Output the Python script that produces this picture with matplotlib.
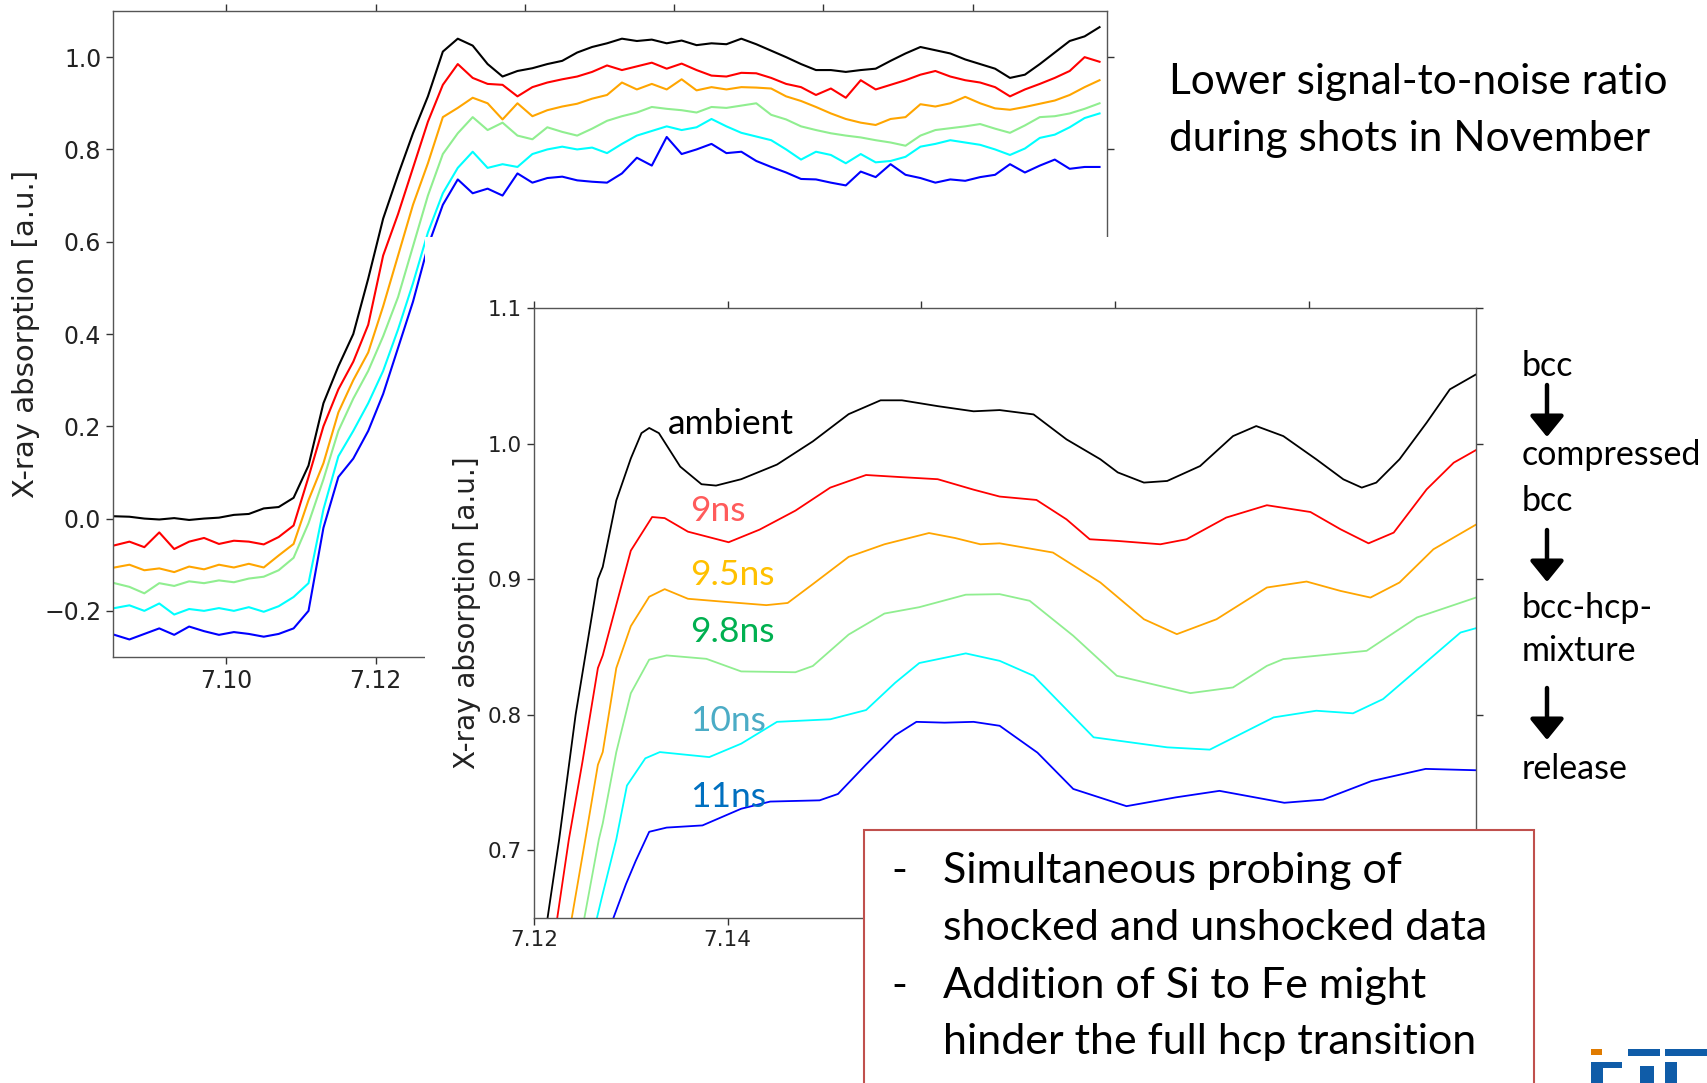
"""Fe-Si XANES slide: noisy November shots behind, smoothed time series in front."""

import matplotlib

matplotlib.use("Agg")
import matplotlib.pyplot as plt
from matplotlib.patches import FancyArrowPatch, Rectangle

W, H = 1708, 1083  # output size in pixels

SERIES_COLORS = ["black", "red", "orange", "lightgreen", "cyan", "blue"]
LABELS = ["ambient", "9ns", "9.5ns", "9.8ns", "10ns", "11ns"]
LABEL_COLORS = ["black", "#FF5B5B", "#FFC000", "#00B050", "#4BACC6", "#0070C0"]
LABEL_Y = [1.0145, 0.950, 0.9028, 0.861, 0.7952, 0.739]

# ---- raw (noisy) scans, background panel ----
raw_energy = [
    7.085, 7.087, 7.089, 7.091, 7.093, 7.095, 7.097, 7.099, 7.101, 7.103,
    7.105, 7.107, 7.109, 7.111, 7.113, 7.115, 7.117, 7.119, 7.121, 7.123,
    7.125, 7.127, 7.129, 7.131, 7.133, 7.135, 7.137, 7.139, 7.141, 7.143,
    7.145, 7.147, 7.149, 7.151, 7.153, 7.155, 7.157, 7.159, 7.161, 7.163,
    7.165, 7.167, 7.169, 7.171, 7.173, 7.175, 7.177, 7.179, 7.181, 7.183,
    7.185, 7.187, 7.189, 7.191, 7.193, 7.195, 7.197, 7.199, 7.201, 7.203,
    7.205, 7.207, 7.209, 7.211, 7.213, 7.215, 7.217,
]
raw_ambient = [
    0.005, 0.004, 0.000, -0.002, 0.001, -0.003, 0.000, 0.002, 0.008, 0.010,
    0.022, 0.025, 0.045, 0.115, 0.250, 0.330, 0.400, 0.520, 0.650, 0.745,
    0.835, 0.915, 1.012, 1.040, 1.025, 0.985, 0.958, 0.970, 0.976, 0.985,
    0.992, 1.010, 1.022, 1.030, 1.040, 1.035, 1.038, 1.030, 1.036, 1.026,
    1.030, 1.028, 1.040, 1.028, 1.014, 1.000, 0.985, 0.972, 0.972, 0.968,
    0.972, 0.975, 0.992, 1.008, 1.022, 1.015, 1.008, 0.995, 0.985, 0.975,
    0.955, 0.962, 0.985, 1.010, 1.035, 1.045, 1.065,
]
raw_9ns = [
    -0.058, -0.050, -0.062, -0.030, -0.066, -0.050, -0.042, -0.055, -0.048, -0.050,
    -0.056, -0.040, -0.015, 0.090, 0.200, 0.280, 0.340, 0.420, 0.570, 0.660,
    0.760, 0.860, 0.940, 0.985, 0.955, 0.942, 0.940, 0.915, 0.935, 0.945,
    0.952, 0.958, 0.968, 0.982, 0.972, 0.980, 0.988, 0.975, 0.986, 0.972,
    0.960, 0.958, 0.966, 0.965, 0.955, 0.942, 0.935, 0.918, 0.932, 0.912,
    0.950, 0.930, 0.940, 0.950, 0.962, 0.970, 0.958, 0.950, 0.945, 0.935,
    0.915, 0.930, 0.942, 0.955, 0.970, 1.000, 0.990,
]
raw_9p5ns = [
    -0.106, -0.100, -0.112, -0.108, -0.116, -0.104, -0.110, -0.100, -0.106, -0.098,
    -0.106, -0.080, -0.055, 0.040, 0.120, 0.230, 0.300, 0.360, 0.460, 0.570,
    0.680, 0.770, 0.870, 0.890, 0.912, 0.900, 0.865, 0.900, 0.872, 0.885,
    0.893, 0.899, 0.910, 0.918, 0.945, 0.930, 0.942, 0.930, 0.952, 0.928,
    0.935, 0.930, 0.935, 0.934, 0.932, 0.915, 0.905, 0.892, 0.878, 0.866,
    0.858, 0.853, 0.866, 0.870, 0.898, 0.893, 0.900, 0.914, 0.900, 0.889,
    0.886, 0.892, 0.899, 0.906, 0.918, 0.935, 0.950,
]
raw_9p8ns = [
    -0.140, -0.148, -0.162, -0.140, -0.146, -0.136, -0.140, -0.134, -0.138, -0.130,
    -0.126, -0.112, -0.085, -0.010, 0.085, 0.190, 0.260, 0.320, 0.395, 0.480,
    0.590, 0.700, 0.790, 0.835, 0.870, 0.842, 0.858, 0.830, 0.822, 0.848,
    0.838, 0.830, 0.845, 0.862, 0.872, 0.880, 0.892, 0.888, 0.885, 0.880,
    0.892, 0.890, 0.895, 0.900, 0.875, 0.865, 0.850, 0.842, 0.835, 0.830,
    0.826, 0.820, 0.815, 0.808, 0.830, 0.842, 0.846, 0.850, 0.855, 0.845,
    0.836, 0.852, 0.870, 0.872, 0.878, 0.888, 0.900,
]
raw_10ns = [
    -0.194, -0.188, -0.200, -0.184, -0.208, -0.196, -0.200, -0.194, -0.200, -0.192,
    -0.202, -0.190, -0.170, -0.140, 0.020, 0.135, 0.190, 0.250, 0.320, 0.410,
    0.510, 0.620, 0.705, 0.760, 0.795, 0.760, 0.768, 0.762, 0.790, 0.800,
    0.806, 0.800, 0.804, 0.792, 0.812, 0.830, 0.840, 0.850, 0.842, 0.848,
    0.866, 0.850, 0.836, 0.828, 0.820, 0.800, 0.778, 0.795, 0.788, 0.770,
    0.790, 0.772, 0.775, 0.784, 0.806, 0.812, 0.820, 0.815, 0.810, 0.800,
    0.788, 0.802, 0.825, 0.832, 0.848, 0.868, 0.878,
]
raw_11ns = [
    -0.252, -0.262, -0.250, -0.238, -0.252, -0.234, -0.244, -0.252, -0.246, -0.250,
    -0.256, -0.250, -0.238, -0.200, -0.020, 0.090, 0.130, 0.190, 0.270, 0.370,
    0.470, 0.590, 0.680, 0.735, 0.705, 0.715, 0.700, 0.748, 0.728, 0.738,
    0.741, 0.733, 0.730, 0.728, 0.748, 0.782, 0.765, 0.827, 0.790, 0.800,
    0.812, 0.792, 0.795, 0.775, 0.762, 0.750, 0.736, 0.735, 0.728, 0.722,
    0.752, 0.740, 0.768, 0.745, 0.738, 0.728, 0.735, 0.732, 0.740, 0.745,
    0.768, 0.750, 0.765, 0.778, 0.758, 0.762, 0.762,
]
raw_series = [raw_ambient, raw_9ns, raw_9p5ns, raw_9p8ns, raw_10ns, raw_11ns]

# ---- smoothed scans, front panel (each read with its own energies) ----
sm_ambient_x = [7.1214, 7.1226, 7.1243, 7.1266, 7.1271, 7.1285, 7.1300, 7.1311, 7.1319, 7.1329,
                7.1351, 7.1373, 7.1388, 7.1414, 7.1451, 7.1488, 7.1525, 7.1558, 7.1580, 7.1617,
                7.1654, 7.1681, 7.1716, 7.1750, 7.1785, 7.1803, 7.1830, 7.1854, 7.1888, 7.1922,
                7.1946, 7.1974, 7.2008, 7.2036, 7.2055, 7.2070, 7.2094, 7.2122, 7.2146, 7.2173]
sm_ambient_y = [0.650, 0.708, 0.800, 0.900, 0.909, 0.958, 0.989, 1.0077, 1.0115, 1.0077,
                0.983, 0.970, 0.969, 0.9737, 0.9845, 1.0016, 1.0217, 1.0319, 1.0319, 1.0276,
                1.0238, 1.0247, 1.0215, 1.0031, 0.9884, 0.9787, 0.9712, 0.9724, 0.9834, 1.0055,
                1.0129, 1.0055, 0.9884, 0.9736, 0.9675, 0.9712, 0.9884, 1.0154, 1.0400, 1.0510]
sm_9ns_x = [7.1224, 7.1236, 7.1250, 7.1266, 7.1271, 7.1300, 7.1322, 7.1335, 7.1359, 7.1401,
            7.1433, 7.1470, 7.1506, 7.1543, 7.1580, 7.1617, 7.1654, 7.1681, 7.1719, 7.1750,
            7.1774, 7.1802, 7.1847, 7.1874, 7.1915, 7.1957, 7.2002, 7.2033, 7.2062, 7.2088,
            7.2122, 7.2150, 7.2173]
sm_9ns_y = [0.650, 0.708, 0.765, 0.8344, 0.8437, 0.921, 0.9458, 0.945, 0.935, 0.9272,
            0.9365, 0.9505, 0.9675, 0.9768, 0.9752, 0.9737, 0.966, 0.9609, 0.9584, 0.9441,
            0.9294, 0.9282, 0.9257, 0.9294, 0.9454, 0.9545, 0.9495, 0.9368, 0.9264, 0.9343,
            0.9662, 0.9859, 0.9952]
sm_9p5ns_x = [7.1239, 7.1253, 7.1266, 7.1271, 7.1285, 7.1300, 7.1319, 7.1335, 7.1359, 7.1396,
              7.1440, 7.1462, 7.1488, 7.1525, 7.1562, 7.1608, 7.1635, 7.1661, 7.1681, 7.1736,
              7.1785, 7.1830, 7.1864, 7.1905, 7.1957, 7.1998, 7.2033, 7.2064, 7.2094, 7.2129,
              7.2173]
sm_9p5ns_y = [0.650, 0.708, 0.763, 0.7724, 0.8344, 0.8653, 0.887, 0.8926, 0.8855, 0.8833,
              0.8808, 0.8824, 0.8963, 0.9164, 0.9257, 0.934, 0.9303, 0.9257, 0.9264, 0.9196,
              0.8975, 0.8704, 0.8594, 0.8704, 0.8938, 0.8982, 0.8913, 0.8864, 0.8975, 0.922,
              0.9402]
sm_9p8ns_x = [7.1252, 7.1267, 7.1271, 7.1285, 7.1300, 7.1319, 7.1337, 7.1378, 7.1414, 7.1470,
              7.1488, 7.1525, 7.1562, 7.1598, 7.1646, 7.1681, 7.1712, 7.1757, 7.1802, 7.1878,
              7.1922, 7.1957, 7.1974, 7.2026, 7.2060, 7.2112, 7.2173]
sm_9p8ns_y = [0.650, 0.708, 0.7198, 0.7724, 0.8158, 0.8406, 0.8437, 0.8412, 0.8319, 0.8313,
              0.8359, 0.8591, 0.8746, 0.8793, 0.8885, 0.8889, 0.884, 0.8582, 0.8287, 0.8159,
              0.8201, 0.836, 0.841, 0.8447, 0.8471, 0.8717, 0.8864]
sm_10ns_x = [7.1265, 7.1270, 7.1285, 7.1296, 7.1315, 7.1330, 7.1381, 7.1414, 7.1451, 7.1506,
             7.1543, 7.1573, 7.1598, 7.1646, 7.1681, 7.1716, 7.1778, 7.1854, 7.1898, 7.1964,
             7.2008, 7.2046, 7.2077, 7.2129, 7.2157, 7.2173]
sm_10ns_y = [0.650, 0.665, 0.708, 0.7477, 0.7678, 0.7724, 0.7687, 0.7786, 0.7947, 0.7966,
             0.8034, 0.8235, 0.8381, 0.8452, 0.8397, 0.8287, 0.7833, 0.7759, 0.7742, 0.798,
             0.8029, 0.801, 0.8115, 0.8434, 0.8606, 0.8638]
sm_11ns_x = [7.1282, 7.1295, 7.1305, 7.1319, 7.1337, 7.1374, 7.1414, 7.1444, 7.1495, 7.1514,
             7.1543, 7.1573, 7.1595, 7.1624, 7.1654, 7.1681, 7.1720, 7.1757, 7.1812, 7.1863,
             7.1908, 7.1975, 7.2015, 7.2065, 7.2121, 7.2173]
sm_11ns_y = [0.650, 0.675, 0.692, 0.7136, 0.7167, 0.7183, 0.7306, 0.7359, 0.7368, 0.7415,
             0.7632, 0.7848, 0.7947, 0.7941, 0.7947, 0.7918, 0.772, 0.7452, 0.7325, 0.739,
             0.7438, 0.735, 0.7373, 0.751, 0.760, 0.759]
smooth_series = [
    (sm_ambient_x, sm_ambient_y), (sm_9ns_x, sm_9ns_y), (sm_9p5ns_x, sm_9p5ns_y),
    (sm_9p8ns_x, sm_9p8ns_y), (sm_10ns_x, sm_10ns_y), (sm_11ns_x, sm_11ns_y),
]

ENERGY_TICKS = [7.10, 7.12, 7.14, 7.16, 7.18, 7.20]
RAW_YTICKS = [-0.2, 0.0, 0.2, 0.4, 0.6, 0.8, 1.0]
SMOOTH_YTICKS = [0.7, 0.8, 0.9, 1.0, 1.1]

PHASES = ["bcc", "compressed", "bcc", "bcc-hcp-", "mixture", "release"]
BULLETS = ["Simultaneous probing of", "shocked and unshocked data",
           "Addition of Si to Fe might", "hinder the full hcp transition"]

SLIDE_FONT = ["Lato", "DejaVu Sans"]


def fig_xy(px, py):
    """pixel position (origin top-left) -> figure fraction"""
    return px / W, 1 - py / H


def style_axes(ax, tick_size):
    ax.tick_params(direction="out", top=True, right=True, labeltop=False,
                   labelright=False, labelsize=tick_size, length=5, width=1,
                   colors="#333333", labelcolor="#222222")
    for sp in ax.spines.values():
        sp.set_color("#555555")
        sp.set_linewidth(1.0)


def fig_rect(fig, x0, y0, x1, y1, **kw):
    """rectangle given by pixel corners (top-left origin)"""
    fig.add_artist(Rectangle((x0 / W, 1 - y1 / H), (x1 - x0) / W, (y1 - y0) / H,
                             transform=fig.transFigure, **kw))


def main() -> None:
    fig = plt.figure(figsize=(W / 100, H / 100), dpi=100)

    # background panel with the raw scans
    ax_raw = fig.add_axes([113 / W, 1 - 657 / H, 994 / W, 646 / H])
    ax_raw.set_zorder(0)
    for ys, c in zip(raw_series, SERIES_COLORS):
        ax_raw.plot(raw_energy, ys, color=c, lw=1.5)
    ax_raw.set_xlim(7.0848, 7.218)
    ax_raw.set_ylim(-0.30, 1.10)
    ax_raw.set_xticks(ENERGY_TICKS)
    ax_raw.set_xticklabels([f"{t:.2f}" if t < 7.13 else "" for t in ENERGY_TICKS])
    ax_raw.set_yticks(RAW_YTICKS)
    ax_raw.set_ylabel("X-ray absorption [a.u.]", fontsize=21, color="#222222")
    ax_raw.yaxis.set_label_coords(-0.073, 0.5)
    style_axes(ax_raw, 17)

    # white pasted-picture area that hides the lower right of the raw panel
    fig_rect(fig, 425, 237, 1520, H + 5, facecolor="white", edgecolor="none", zorder=1)

    # front panel with smoothed scans
    ax = fig.add_axes([534 / W, 1 - 918 / H, 942 / W, 610 / H])
    ax.set_zorder(2)
    for (xs, ys), c in zip(smooth_series, SERIES_COLORS):
        ax.plot(xs, ys, color=c, lw=1.3)
    ax.set_xlim(7.12, 7.2173)
    ax.set_ylim(0.65, 1.10)
    ax.set_xticks(ENERGY_TICKS[1:])
    # labels beyond 7.14 sit under the text box
    ax.set_xticklabels([f"{t:.2f}" if t < 7.15 else "" for t in ENERGY_TICKS[1:]])
    ax.set_yticks(SMOOTH_YTICKS)
    ax.set_ylabel("X-ray absorption [a.u.]", fontsize=20, color="#222222")
    ax.yaxis.set_label_coords(-0.056, 0.5)
    style_axes(ax, 15.5)
    for lab, col, y in zip(LABELS, LABEL_COLORS, LABEL_Y):
        x = 7.1338 if lab == "ambient" else 7.1361
        ax.text(x, y, lab, color=col, fontsize=25.5, family=SLIDE_FONT,
                ha="left", va="center")

    # red framed text box
    fig_rect(fig, 864, 830, 1534, H + 20, facecolor="white",
             edgecolor="#C0504D", lw=1.5, zorder=3)
    for line, y, dash in zip(BULLETS, [871, 928, 986, 1042], [True, False, True, False]):
        if dash:
            fig.text(*fig_xy(891, y), "-", fontsize=31, family=SLIDE_FONT,
                     ha="left", va="center", zorder=4)
        fig.text(*fig_xy(943, y), line, fontsize=31, family=SLIDE_FONT,
                 ha="left", va="center", zorder=4)

    # headline top right
    fig.text(*fig_xy(1169, 82), "Lower signal-to-noise ratio", fontsize=30.5,
             family=SLIDE_FONT, ha="left", va="center", zorder=4)
    fig.text(*fig_xy(1169, 139), "during shots in November", fontsize=30.5,
             family=SLIDE_FONT, ha="left", va="center", zorder=4)

    # phase sequence on the right
    for lab, y in zip(PHASES, [366, 455, 501, 608, 651, 769]):
        fig.text(*fig_xy(1522, y), lab, fontsize=24.5, family=SLIDE_FONT,
                 ha="left", va="center", zorder=4)
    for y0, y1 in [(385, 437), (530, 582), (688, 740)]:
        fig.add_artist(FancyArrowPatch(fig_xy(1547, y0), fig_xy(1547, y1),
                                       transform=fig.transFigure,
                                       arrowstyle="-|>,head_length=0.32,head_width=0.26",
                                       mutation_scale=40, lw=3.2, color="black",
                                       shrinkA=0, shrinkB=0, zorder=4))

    # logo fragment at the bottom edge
    fig_rect(fig, 1591, 1049, 1602, 1055, facecolor="#E07B00", edgecolor="none", zorder=4)
    logo_blue = "#0F5CA8"
    for x0, y0, x1, y1 in [(1591, 1062, 1603, 1090), (1591, 1062, 1622, 1068),
                           (1628, 1049, 1660, 1056), (1665, 1049, 1708, 1056),
                           (1665, 1062, 1677, 1090), (1640, 1066, 1654, 1090)]:
        fig_rect(fig, x0, y0, x1, y1, facecolor=logo_blue, edgecolor="none", zorder=4)

    fig.savefig("out.png", dpi=100)
    plt.close(fig)


if __name__ == "__main__":
    main()
